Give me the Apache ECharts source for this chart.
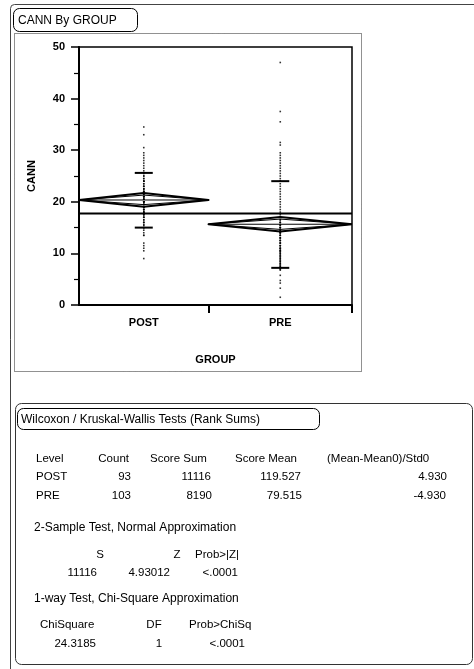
<!DOCTYPE html>
<html>
<head>
<meta charset="utf-8">
<script src="https://cdn.jsdelivr.net/npm/echarts@6/dist/echarts.min.js"></script>
<style>
html,body{margin:0;padding:0;background:#fff;}
#c{width:474px;height:669px;}
</style>
</head>
<body>
<div id="c"></div>
<script>
// ---- data ----
var groups = ['POST', 'PRE'];
var counts = [93, 103];
var means = [20.35, 15.65];
var ciLow = [19.05, 14.25];
var ciHigh = [21.7, 17.05];
var overlapLow = [19.45, 14.65];
var overlapHigh = [21.3, 16.65];
var sdLow = [15.0, 7.2];
var sdHigh = [25.6, 24.0];
var grandMean = 17.75;
var yTicks = [0, 10, 20, 30, 40, 50];

var postValues = [34.5, 33, 30.5, 29.5, 29, 28.5, 28, 27.5, 27, 26.5, 26, 25.5, 25.5, 25, 25, 24.5, 24.5,
  24, 24, 24, 24, 23.5, 23.5, 23, 23, 23, 22.5, 22.5, 22.5, 22, 22, 22, 22, 21.5, 21.5, 21.5, 21, 21, 21, 21, 21,
  20.5, 20.5, 20.5, 20.5, 20, 20, 20, 20, 20, 20, 19.5, 19.5, 19.5, 19.5, 19, 19, 19, 19, 19, 18.5, 18.5, 18.5, 18.5,
  18, 18, 18, 18, 17.5, 17.5, 17.5, 17, 17, 17, 16.5, 16.5, 16, 16, 16, 15.5, 15.5, 15, 15, 15, 14.5, 14,
  13.5, 13.5, 12, 11.5, 11, 10.5, 9];
var preValues = [47, 37.5, 35.5, 31.5, 31, 29.5, 29, 28.5, 28, 27.5, 27, 26.5, 26, 25.5, 25, 24.5, 24, 24,
  23.5, 23, 22.5, 22, 21.5, 21, 20.5, 20, 19.5, 19, 18.5, 18, 17.5, 17, 17, 16.5, 16.5, 16, 16, 16,
  15.5, 15.5, 15.5, 15, 15, 15, 15, 14.5, 14.5, 14.5, 14, 14, 14, 14, 13.5, 13.5, 13.5, 13, 13, 13,
  12.5, 12.5, 12.5, 12, 12, 12, 11.5, 11.5, 11.5, 11, 11, 11, 10.75, 10.5, 10.5, 10.5, 10.25, 10, 10,
  9.75, 9.5, 9.5, 9.25, 9, 9, 8.75, 8.5, 8.5, 8.25, 8, 8, 7.75, 7.5, 7.5, 7.25, 7, 7, 6.75, 5.75, 4.75,
  4.25, 3.25, 1.5];

// Table text
var tableTitle = 'Wilcoxon / Kruskal-Wallis Tests (Rank Sums)';
var tableHeader = ['Level', 'Count', 'Score Sum', 'Score Mean', '(Mean-Mean0)/Std0'];
var tableRows = [
  ['POST', '93', '11116', '119.527', '4.930'],
  ['PRE', '103', '8190', '79.515', '-4.930']
];
var twoSampleTitle = '2-Sample Test, Normal Approximation';
var twoSampleHeader = ['S', 'Z', 'Prob>|Z|'];
var twoSampleRow = ['11116', '4.93012', '<.0001'];
var oneWayTitle = '1-way Test, Chi-Square Approximation';
var oneWayHeader = ['ChiSquare', 'DF', 'Prob>ChiSq'];
var oneWayRow = ['24.3185', '1', '<.0001'];

// ---- derived layout of group bands (width proportional to count) ----
var total = counts[0] + counts[1];
var starts = [0, counts[0]];
var ends = [counts[0], total];
var centers = [counts[0] / 2, counts[0] + counts[1] / 2];

var diamondData = groups.map(function (g, i) {
  return [starts[i], ends[i], means[i], ciLow[i], ciHigh[i], overlapLow[i], overlapHigh[i]];
});
var sdData = groups.map(function (g, i) { return [centers[i], sdLow[i], sdHigh[i]]; });
var pointData = [];
postValues.forEach(function (v) { pointData.push([centers[0], v]); });
preValues.forEach(function (v) { pointData.push([centers[1], v]); });

var FONT = "'Liberation Sans', Arial, sans-serif";
var TFS = 11.5;
var HFS = 12;

function txt(x, y, s, align, size) {
  var st = { x: x, y: y, text: s, fill: '#000', font: (size || TFS) + 'px ' + FONT, textAlign: align || 'left', textVerticalAlign: 'middle' };
  return { type: 'text', style: st, z: 10 };
}

var graphics = [
  // outer panel frame
  { type: 'rect', shape: { x: 10.5, y: 4.5, width: 520, height: 700, r: 4 }, style: { fill: 'none', stroke: '#444', lineWidth: 1 }, z: 1 },
  // title box
  { type: 'rect', shape: { x: 13.5, y: 8.5, width: 124, height: 23, r: 6 }, style: { fill: '#fff', stroke: '#000', lineWidth: 1 }, z: 2 },
  txt(18, 20.5, 'CANN By GROUP', 'left', HFS),
  // dotted plot frame
  { type: 'rect', shape: { x: 14.5, y: 33.5, width: 347, height: 338 }, style: { fill: 'none', stroke: '#222', lineWidth: 1, lineDash: [1, 1] }, z: 1 },
  // table box
  { type: 'rect', shape: { x: 15.5, y: 403.5, width: 457, height: 261, r: 6 }, style: { fill: 'none', stroke: '#333', lineWidth: 1 }, z: 1 },
  { type: 'rect', shape: { x: 17.5, y: 408.5, width: 302, height: 21, r: 6 }, style: { fill: '#fff', stroke: '#000', lineWidth: 1 }, z: 2 },
  txt(21, 420, tableTitle, 'left', HFS),
  // header
  txt(36, 459, tableHeader[0]),
  txt(129, 459, tableHeader[1], 'right'),
  txt(150, 459, tableHeader[2]),
  txt(235, 459, tableHeader[3]),
  txt(327, 459, tableHeader[4]),
  // rows
  txt(36, 477, tableRows[0][0]), txt(131, 477, tableRows[0][1], 'right'), txt(211, 477, tableRows[0][2], 'right'),
  txt(301, 477, tableRows[0][3], 'right'), txt(447, 477, tableRows[0][4], 'right'),
  txt(36, 496, tableRows[1][0]), txt(131, 496, tableRows[1][1], 'right'), txt(212, 496, tableRows[1][2], 'right'),
  txt(302, 496, tableRows[1][3], 'right'), txt(446, 496, tableRows[1][4], 'right'),
  // 2-sample
  txt(34, 528, twoSampleTitle, 'left', HFS),
  txt(100, 555, twoSampleHeader[0], 'center'), txt(177, 555, twoSampleHeader[1], 'center'), txt(195, 555, twoSampleHeader[2]),
  txt(97, 573, twoSampleRow[0], 'right'), txt(170, 573, twoSampleRow[1], 'right'), txt(238, 573, twoSampleRow[2], 'right'),
  // 1-way
  txt(34, 599, oneWayTitle, 'left', HFS),
  txt(40, 625, oneWayHeader[0]), txt(154, 625, oneWayHeader[1], 'center'), txt(189, 625, oneWayHeader[2]),
  txt(96, 644, oneWayRow[0], 'right'), txt(159, 644, oneWayRow[1], 'center'), txt(245, 644, oneWayRow[2], 'right')
];

var chart = echarts.init(document.getElementById('c'), null, { renderer: 'canvas' });
chart.setOption({
  animation: false,
  backgroundColor: '#fff',
  graphic: graphics,
  grid: { left: 79, right: 122, top: 47, bottom: 364, show: true, borderColor: '#000', borderWidth: 1.5, backgroundColor: 'transparent' },
  xAxis: {
    type: 'value', min: 0, max: total,
    name: 'GROUP', nameLocation: 'middle', nameGap: 49,
    nameTextStyle: { color: '#000', fontFamily: FONT, fontSize: 11, fontWeight: 'bold' },
    axisLine: { lineStyle: { color: '#000', width: 2 } },
    axisTick: { show: true, customValues: [counts[0], total], length: 8, lineStyle: { color: '#000', width: 2 } },
    axisLabel: {
      customValues: centers, margin: 12, color: '#000', fontFamily: FONT, fontSize: 11, fontWeight: 'bold',
      formatter: function (v) { return groups[centers.indexOf(v)] || ''; }
    },
    splitLine: { show: false }
  },
  yAxis: {
    type: 'value', min: yTicks[0], max: yTicks[yTicks.length - 1], interval: 10,
    name: 'CANN', nameLocation: 'middle', nameGap: 42, nameRotate: 90,
    nameTextStyle: { color: '#000', fontFamily: FONT, fontSize: 11, fontWeight: 'bold' },
    axisLine: { show: true, lineStyle: { color: '#000', width: 2 } },
    axisTick: { show: true, length: 8, lineStyle: { color: '#000', width: 1.5 } },
    minorTick: { show: true, splitNumber: 2, length: 5, lineStyle: { color: '#000', width: 1.2 } },
    axisLabel: { margin: 14, color: '#000', fontFamily: FONT, fontSize: 11, fontWeight: 'bold' },
    splitLine: { show: false }
  },
  series: [
    {
      type: 'custom', name: 'diamonds', data: diamondData, z: 3, clip: true,
      renderItem: function (params, api) {
        var xs = api.value(0), xe = api.value(1), m = api.value(2);
        var xc = (xs + xe) / 2;
        function dia(lo, hi, w) {
          return {
            type: 'polygon',
            shape: { points: [api.coord([xs, m]), api.coord([xc, hi]), api.coord([xe, m]), api.coord([xc, lo])] },
            style: { fill: 'none', stroke: '#000', lineWidth: w, lineJoin: 'round' }
          };
        }
        var a = api.coord([xs, m]), b = api.coord([xe, m]);
        return {
          type: 'group',
          children: [
            dia(api.value(3), api.value(4), 2),
            dia(api.value(5), api.value(6), 1),
            { type: 'line', shape: { x1: a[0], y1: a[1], x2: b[0], y2: b[1] }, style: { stroke: '#000', lineWidth: 1 } }
          ]
        };
      }
    },
    {
      type: 'custom', name: 'sd', data: sdData, z: 4,
      renderItem: function (params, api) {
        var lo = api.coord([api.value(0), api.value(1)]);
        var hi = api.coord([api.value(0), api.value(2)]);
        return {
          type: 'group',
          children: [
            { type: 'line', shape: { x1: lo[0] - 9, y1: lo[1], x2: lo[0] + 9, y2: lo[1] }, style: { stroke: '#000', lineWidth: 2 } },
            { type: 'line', shape: { x1: hi[0] - 9, y1: hi[1], x2: hi[0] + 9, y2: hi[1] }, style: { stroke: '#000', lineWidth: 2 } }
          ]
        };
      }
    },
    {
      type: 'line', name: 'grand mean', data: [[0, grandMean], [total, grandMean]], symbol: 'none', z: 3,
      lineStyle: { color: '#000', width: 2 }
    },
    {
      type: 'scatter', name: 'points', data: pointData, symbol: 'rect', symbolSize: 1.6, z: 5,
      itemStyle: { color: '#000' }
    }
  ]
});
</script>
</body>
</html>
